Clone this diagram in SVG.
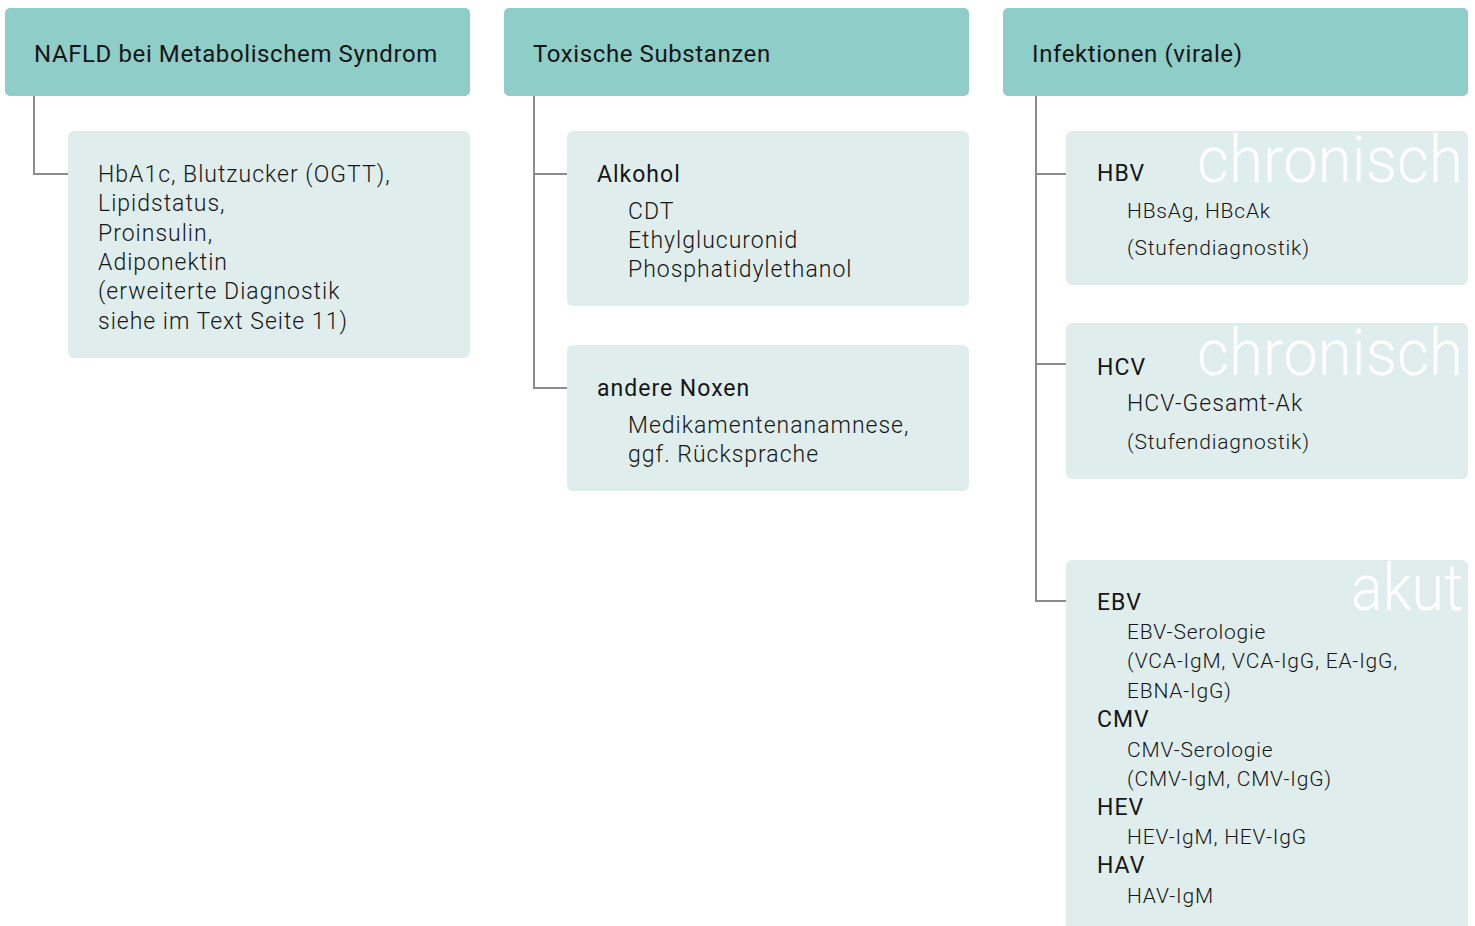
<svg xmlns="http://www.w3.org/2000/svg" width="1475" height="926" viewBox="0 0 1475 926">
<style>
.hdr{fill:#8fcdc8}
.box{fill:#dfeeed}
.conn{fill:none;stroke:#8c8c8c;stroke-width:2}
text{font-family:Roboto,"Liberation Sans",sans-serif;fill:#161616}
.ht{font-size:24px;font-weight:400;letter-spacing:0.6px}
.bt{font-size:23px;font-weight:300;letter-spacing:1px}
.lb{font-size:23px;font-weight:400;letter-spacing:1px}
.st{font-size:21px;font-weight:300;letter-spacing:0.8px}
.wm{font-size:64px;font-weight:300;fill:#ffffff}
</style>
<g id="connectors">
<path class="conn" d="M34 96V174H68"/>
<path class="conn" d="M534 96V388H567M534 174H567"/>
<path class="conn" d="M1036 96V601H1066M1036 174H1066M1036 364H1066"/>
</g>
<g id="h1"><rect class="hdr" x="5" y="8" width="465" height="88" rx="5"/><text class="ht" x="34" y="62">NAFLD bei Metabolischem Syndrom</text></g>
<g id="h2"><rect class="hdr" x="504" y="8" width="465" height="88" rx="5"/><text class="ht" x="533" y="62">Toxische Substanzen</text></g>
<g id="h3"><rect class="hdr" x="1003" y="8" width="465" height="88" rx="5"/><text class="ht" x="1032" y="62">Infektionen (virale)</text></g>
<g id="n1"><rect class="box" x="68" y="131" width="402" height="227" rx="6"/>
<text class="bt" x="98" y="182">HbA1c, Blutzucker (OGTT),</text>
<text class="bt" x="98" y="211">Lipidstatus,</text>
<text class="bt" x="98" y="241">Proinsulin,</text>
<text class="bt" x="98" y="270">Adiponektin</text>
<text class="bt" x="98" y="299">(erweiterte Diagnostik</text>
<text class="bt" x="98" y="329">siehe im Text Seite 11)</text>
</g>
<g id="n2"><rect class="box" x="567" y="131" width="402" height="175" rx="6"/>
<text class="lb" x="597" y="182">Alkohol</text>
<text class="bt" x="628" y="219">CDT</text>
<text class="bt" x="628" y="248">Ethylglucuronid</text>
<text class="bt" x="628" y="277">Phosphatidylethanol</text>
</g>
<g id="n3"><rect class="box" x="567" y="345" width="402" height="146" rx="6"/>
<text class="lb" x="597" y="396">andere Noxen</text>
<text class="bt" x="628" y="433">Medikamentenanamnese,</text>
<text class="bt" x="628" y="462">ggf. Rücksprache</text>
</g>
<g id="n4"><rect class="box" x="1066" y="131" width="402" height="154" rx="6"/>
<text class="wm" x="1197" y="182" textLength="266" lengthAdjust="spacingAndGlyphs">chronisch</text>
<text class="lb" x="1097" y="181">HBV</text>
<text class="st" x="1127" y="218">HBsAg, HBcAk</text>
<text class="st" x="1127" y="255">(Stufendiagnostik)</text>
</g>
<g id="n5"><rect class="box" x="1066" y="323" width="402" height="156" rx="6"/>
<text class="wm" x="1197" y="375" textLength="266" lengthAdjust="spacingAndGlyphs">chronisch</text>
<text class="lb" x="1097" y="375">HCV</text>
<text class="bt" x="1127" y="411">HCV-Gesamt-Ak</text>
<text class="st" x="1127" y="449">(Stufendiagnostik)</text>
</g>
<g id="n6"><rect class="box" x="1066" y="560" width="402" height="380" rx="6"/>
<text class="wm" x="1351" y="610" textLength="112" lengthAdjust="spacingAndGlyphs">akut</text>
<text class="lb" x="1097" y="610">EBV</text>
<text class="st" x="1127" y="639">EBV-Serologie</text>
<text class="st" x="1127" y="668">(VCA-IgM, VCA-IgG, EA-IgG,</text>
<text class="st" x="1127" y="698">EBNA-IgG)</text>
<text class="lb" x="1097" y="727">CMV</text>
<text class="st" x="1127" y="757">CMV-Serologie</text>
<text class="st" x="1127" y="786">(CMV-IgM, CMV-IgG)</text>
<text class="lb" x="1097" y="815">HEV</text>
<text class="st" x="1127" y="844">HEV-IgM, HEV-IgG</text>
<text class="lb" x="1097" y="873">HAV</text>
<text class="st" x="1127" y="903">HAV-IgM</text>
</g>
</svg>
